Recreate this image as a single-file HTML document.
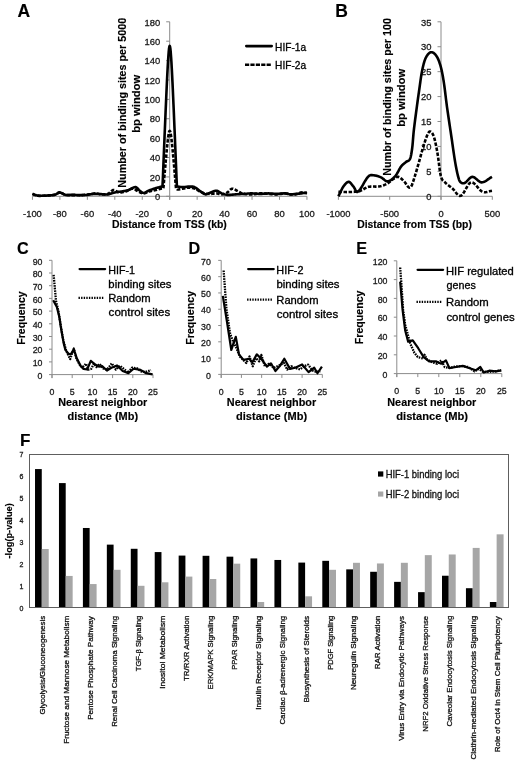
<!DOCTYPE html>
<html><head><meta charset="utf-8"><style>
html,body{margin:0;padding:0;background:#fff;overflow:hidden;width:520px;height:765px;}
svg{display:block;filter:blur(0.35px);}
text{font-family:"Liberation Sans", sans-serif;stroke-width:0.3px;}
text[font-weight=bold]{stroke-width:0.15px;}
</style></head><body>
<svg width="520" height="765" viewBox="0 0 520 765" font-family='"Liberation Sans", sans-serif'>
<rect width="520" height="765" fill="#fff"/>
<text x="17.60" y="16.90" font-size="17.5" font-weight="bold" fill="#000" stroke="#000">A</text>
<text x="335.30" y="16.90" font-size="17.5" font-weight="bold" fill="#000" stroke="#000">B</text>
<text x="17.00" y="254.30" font-size="16.2" font-weight="bold" fill="#000" stroke="#000">C</text>
<text x="188.60" y="254.30" font-size="16.2" font-weight="bold" fill="#000" stroke="#000">D</text>
<text x="356.20" y="254.30" font-size="16.2" font-weight="bold" fill="#000" stroke="#000">E</text>
<text x="20.00" y="445.90" font-size="17.0" font-weight="bold" fill="#000" stroke="#000">F</text>
<line x1="32.45" y1="196.30" x2="306.95" y2="196.30" stroke="#8c8c8c" stroke-width="1" stroke-linecap="butt"/>
<line x1="169.70" y1="21.80" x2="169.70" y2="199.80" stroke="#8c8c8c" stroke-width="1" stroke-linecap="butt"/>
<line x1="166.20" y1="196.30" x2="169.70" y2="196.30" stroke="#8c8c8c" stroke-width="1" stroke-linecap="butt"/>
<text x="160.30" y="200.00" font-size="9.8" text-anchor="end" textLength="5.2" lengthAdjust="spacingAndGlyphs" fill="#1a1a1a" stroke="#1a1a1a">0</text>
<line x1="166.20" y1="176.91" x2="169.70" y2="176.91" stroke="#8c8c8c" stroke-width="1" stroke-linecap="butt"/>
<text x="160.30" y="180.61" font-size="9.8" text-anchor="end" textLength="10.5" lengthAdjust="spacingAndGlyphs" fill="#1a1a1a" stroke="#1a1a1a">20</text>
<line x1="166.20" y1="157.52" x2="169.70" y2="157.52" stroke="#8c8c8c" stroke-width="1" stroke-linecap="butt"/>
<text x="160.30" y="161.22" font-size="9.8" text-anchor="end" textLength="10.5" lengthAdjust="spacingAndGlyphs" fill="#1a1a1a" stroke="#1a1a1a">40</text>
<line x1="166.20" y1="138.13" x2="169.70" y2="138.13" stroke="#8c8c8c" stroke-width="1" stroke-linecap="butt"/>
<text x="160.30" y="141.83" font-size="9.8" text-anchor="end" textLength="10.5" lengthAdjust="spacingAndGlyphs" fill="#1a1a1a" stroke="#1a1a1a">60</text>
<line x1="166.20" y1="118.74" x2="169.70" y2="118.74" stroke="#8c8c8c" stroke-width="1" stroke-linecap="butt"/>
<text x="160.30" y="122.44" font-size="9.8" text-anchor="end" textLength="10.5" lengthAdjust="spacingAndGlyphs" fill="#1a1a1a" stroke="#1a1a1a">80</text>
<line x1="166.20" y1="99.36" x2="169.70" y2="99.36" stroke="#8c8c8c" stroke-width="1" stroke-linecap="butt"/>
<text x="160.30" y="103.06" font-size="9.8" text-anchor="end" textLength="15.7" lengthAdjust="spacingAndGlyphs" fill="#1a1a1a" stroke="#1a1a1a">100</text>
<line x1="166.20" y1="79.97" x2="169.70" y2="79.97" stroke="#8c8c8c" stroke-width="1" stroke-linecap="butt"/>
<text x="160.30" y="83.67" font-size="9.8" text-anchor="end" textLength="15.7" lengthAdjust="spacingAndGlyphs" fill="#1a1a1a" stroke="#1a1a1a">120</text>
<line x1="166.20" y1="60.58" x2="169.70" y2="60.58" stroke="#8c8c8c" stroke-width="1" stroke-linecap="butt"/>
<text x="160.30" y="64.28" font-size="9.8" text-anchor="end" textLength="15.7" lengthAdjust="spacingAndGlyphs" fill="#1a1a1a" stroke="#1a1a1a">140</text>
<line x1="166.20" y1="41.19" x2="169.70" y2="41.19" stroke="#8c8c8c" stroke-width="1" stroke-linecap="butt"/>
<text x="160.30" y="44.89" font-size="9.8" text-anchor="end" textLength="15.7" lengthAdjust="spacingAndGlyphs" fill="#1a1a1a" stroke="#1a1a1a">160</text>
<line x1="166.20" y1="21.80" x2="169.70" y2="21.80" stroke="#8c8c8c" stroke-width="1" stroke-linecap="butt"/>
<text x="160.30" y="25.50" font-size="9.8" text-anchor="end" textLength="15.7" lengthAdjust="spacingAndGlyphs" fill="#1a1a1a" stroke="#1a1a1a">180</text>
<line x1="32.45" y1="196.30" x2="32.45" y2="199.80" stroke="#8c8c8c" stroke-width="1" stroke-linecap="butt"/>
<text x="32.45" y="216.90" font-size="9.8" text-anchor="middle" textLength="18.8" lengthAdjust="spacingAndGlyphs" fill="#1a1a1a" stroke="#1a1a1a">-100</text>
<line x1="59.90" y1="196.30" x2="59.90" y2="199.80" stroke="#8c8c8c" stroke-width="1" stroke-linecap="butt"/>
<text x="59.90" y="216.90" font-size="9.8" text-anchor="middle" textLength="13.6" lengthAdjust="spacingAndGlyphs" fill="#1a1a1a" stroke="#1a1a1a">-80</text>
<line x1="87.35" y1="196.30" x2="87.35" y2="199.80" stroke="#8c8c8c" stroke-width="1" stroke-linecap="butt"/>
<text x="87.35" y="216.90" font-size="9.8" text-anchor="middle" textLength="13.6" lengthAdjust="spacingAndGlyphs" fill="#1a1a1a" stroke="#1a1a1a">-60</text>
<line x1="114.80" y1="196.30" x2="114.80" y2="199.80" stroke="#8c8c8c" stroke-width="1" stroke-linecap="butt"/>
<text x="114.80" y="216.90" font-size="9.8" text-anchor="middle" textLength="13.6" lengthAdjust="spacingAndGlyphs" fill="#1a1a1a" stroke="#1a1a1a">-40</text>
<line x1="142.25" y1="196.30" x2="142.25" y2="199.80" stroke="#8c8c8c" stroke-width="1" stroke-linecap="butt"/>
<text x="142.25" y="216.90" font-size="9.8" text-anchor="middle" textLength="13.6" lengthAdjust="spacingAndGlyphs" fill="#1a1a1a" stroke="#1a1a1a">-20</text>
<line x1="169.70" y1="196.30" x2="169.70" y2="199.80" stroke="#8c8c8c" stroke-width="1" stroke-linecap="butt"/>
<text x="169.70" y="216.90" font-size="9.8" text-anchor="middle" textLength="5.2" lengthAdjust="spacingAndGlyphs" fill="#1a1a1a" stroke="#1a1a1a">0</text>
<line x1="197.15" y1="196.30" x2="197.15" y2="199.80" stroke="#8c8c8c" stroke-width="1" stroke-linecap="butt"/>
<text x="197.15" y="216.90" font-size="9.8" text-anchor="middle" textLength="10.5" lengthAdjust="spacingAndGlyphs" fill="#1a1a1a" stroke="#1a1a1a">20</text>
<line x1="224.60" y1="196.30" x2="224.60" y2="199.80" stroke="#8c8c8c" stroke-width="1" stroke-linecap="butt"/>
<text x="224.60" y="216.90" font-size="9.8" text-anchor="middle" textLength="10.5" lengthAdjust="spacingAndGlyphs" fill="#1a1a1a" stroke="#1a1a1a">40</text>
<line x1="252.05" y1="196.30" x2="252.05" y2="199.80" stroke="#8c8c8c" stroke-width="1" stroke-linecap="butt"/>
<text x="252.05" y="216.90" font-size="9.8" text-anchor="middle" textLength="10.5" lengthAdjust="spacingAndGlyphs" fill="#1a1a1a" stroke="#1a1a1a">60</text>
<line x1="279.50" y1="196.30" x2="279.50" y2="199.80" stroke="#8c8c8c" stroke-width="1" stroke-linecap="butt"/>
<text x="279.50" y="216.90" font-size="9.8" text-anchor="middle" textLength="10.5" lengthAdjust="spacingAndGlyphs" fill="#1a1a1a" stroke="#1a1a1a">80</text>
<line x1="306.95" y1="196.30" x2="306.95" y2="199.80" stroke="#8c8c8c" stroke-width="1" stroke-linecap="butt"/>
<text x="306.95" y="216.90" font-size="9.8" text-anchor="middle" textLength="15.7" lengthAdjust="spacingAndGlyphs" fill="#1a1a1a" stroke="#1a1a1a">100</text>
<text x="111.92" y="228.00" font-size="10.5" font-weight="bold" textLength="114.9" lengthAdjust="spacingAndGlyphs" fill="#000" stroke="#000">Distance from TSS (kb)</text>
<text x="125.90" y="187.70" font-size="10.6" font-weight="bold" textLength="169.9" lengthAdjust="spacingAndGlyphs" transform="rotate(-90 125.90 187.70)" fill="#000" stroke="#000">Number of binding sites per 5000</text>
<text x="139.60" y="132.73" font-size="10.6" font-weight="bold" textLength="57.9" lengthAdjust="spacingAndGlyphs" transform="rotate(-90 139.60 132.73)" fill="#000" stroke="#000">bp window</text>
<polyline points="32.45,193.88 32.86,194.04 33.41,194.29 34.08,194.57 34.84,194.86 35.68,195.13 36.57,195.33 37.57,195.48 38.71,195.60 39.92,195.69 41.14,195.76 42.33,195.80 43.43,195.82 44.42,195.79 45.37,195.73 46.26,195.63 47.14,195.53 48.01,195.42 48.92,195.33 49.84,195.27 50.75,195.23 51.66,195.20 52.58,195.14 53.49,195.03 54.41,194.85 55.33,194.52 56.24,194.07 57.15,193.56 58.07,193.09 58.98,192.75 59.90,192.62 60.78,192.75 61.63,193.11 62.48,193.60 63.36,194.10 64.32,194.55 65.39,194.85 66.63,194.97 67.98,195.00 69.43,194.97 70.88,194.91 72.29,194.86 73.62,194.85 74.85,194.88 76.01,194.94 77.14,195.01 78.25,195.07 79.36,195.12 80.49,195.14 81.63,195.13 82.78,195.11 83.92,195.07 85.06,195.01 86.21,194.94 87.35,194.85 88.49,194.71 89.64,194.53 90.78,194.32 91.92,194.13 93.07,193.97 94.21,193.88 95.35,193.85 96.50,193.88 97.64,193.95 98.78,194.03 99.94,194.11 101.07,194.17 102.21,194.23 103.37,194.32 104.51,194.40 105.65,194.46 106.80,194.45 107.94,194.36 109.08,194.15 110.23,193.84 111.37,193.46 112.51,193.08 113.66,192.71 114.80,192.42 115.94,192.21 117.09,192.04 118.23,191.91 119.37,191.78 120.52,191.63 121.66,191.45 122.80,191.26 123.95,191.06 125.09,190.85 126.23,190.61 127.39,190.33 128.52,190.00 129.71,189.52 130.91,188.90 132.12,188.25 133.30,187.65 134.40,187.23 135.39,187.09 136.24,187.31 136.97,187.79 137.61,188.45 138.23,189.18 138.85,189.90 139.50,190.48 140.18,191.00 140.82,191.54 141.48,192.06 142.15,192.50 142.85,192.79 143.62,192.91 144.45,192.78 145.30,192.46 146.20,191.99 147.14,191.47 148.10,190.95 149.11,190.48 150.20,190.07 151.35,189.64 152.54,189.21 153.74,188.80 154.89,188.41 155.97,188.06 156.32,187.96 156.66,187.86 157.00,187.75 157.35,187.66 157.69,187.57 158.01,187.49 158.03,187.48 158.38,187.39 158.72,187.31 158.98,187.24 159.06,187.22 159.41,187.14 159.75,187.05 159.89,187.02 160.09,186.97 160.44,186.88 160.72,186.81 160.78,186.79 161.12,186.70 161.46,186.61 161.81,186.47 161.99,186.40 162.15,186.29 162.27,186.21 162.49,186.03 162.78,180.39 162.84,179.01 163.18,170.40 163.30,167.30 163.52,161.85 163.87,153.38 164.21,144.95 164.55,136.62 164.90,128.36 165.24,120.19 165.58,112.14 165.66,110.22 165.93,104.22 166.27,96.47 166.61,88.92 166.95,81.63 167.30,74.66 167.56,69.63 167.64,68.10 167.98,62.08 168.33,56.73 168.67,52.24 169.01,48.81 169.36,46.66 169.70,45.91 170.04,46.66 170.39,48.81 170.73,52.24 171.07,56.73 171.42,62.08 171.76,68.10 171.84,69.63 172.10,74.66 172.44,81.63 172.79,88.92 173.13,96.47 173.47,104.22 173.74,110.22 173.82,112.14 174.16,120.19 174.50,128.36 174.85,136.62 175.19,144.95 175.53,153.38 175.88,161.86 176.10,167.32 176.22,170.41 176.56,179.04 176.62,180.43 176.91,186.09 177.13,186.28 177.25,186.36 177.41,186.46 177.59,186.51 177.94,186.61 178.28,186.66 178.62,186.71 178.69,186.73 178.96,186.76 179.31,186.81 179.57,186.84 179.65,186.85 179.99,186.88 180.34,186.92 180.52,186.94 180.68,186.95 181.02,186.98 181.37,187.01 181.49,187.02 181.71,187.03 182.05,187.05 182.40,187.07 182.48,187.07 182.74,187.08 183.08,187.08 183.42,187.09 184.34,187.05 185.25,186.97 186.17,186.85 187.09,186.73 188.00,186.64 188.91,186.61 189.83,186.59 190.74,186.57 191.66,186.58 192.58,186.64 193.49,186.80 194.41,187.09 195.32,187.55 196.23,188.15 197.15,188.85 198.07,189.59 198.98,190.31 199.89,190.97 200.81,191.63 201.72,192.33 202.64,193.03 203.56,193.65 204.47,194.11 205.38,194.36 206.30,194.34 207.21,194.10 208.13,193.71 209.05,193.25 209.96,192.80 210.88,192.42 211.79,192.07 212.70,191.66 213.62,191.26 214.54,190.92 215.45,190.71 216.36,190.68 217.28,190.89 218.19,191.30 219.11,191.83 220.03,192.42 220.94,192.96 221.85,193.39 222.73,193.73 223.58,194.04 224.44,194.32 225.31,194.55 226.27,194.73 227.34,194.85 228.55,194.88 229.88,194.83 231.30,194.72 232.74,194.59 234.18,194.46 235.58,194.36 236.95,194.28 238.32,194.20 239.70,194.12 241.07,194.04 242.44,193.96 243.81,193.88 245.19,193.78 246.56,193.68 247.93,193.57 249.31,193.48 250.68,193.42 252.05,193.39 253.42,193.43 254.79,193.52 256.17,193.63 257.54,193.75 258.91,193.84 260.28,193.88 261.66,193.84 263.03,193.75 264.40,193.63 265.77,193.52 267.15,193.43 268.52,193.39 269.89,193.43 271.26,193.52 272.64,193.63 274.01,193.75 275.38,193.84 276.75,193.88 278.15,193.84 279.60,193.73 281.04,193.60 282.45,193.48 283.78,193.40 284.99,193.39 286.06,193.49 287.02,193.66 287.90,193.87 288.75,194.09 289.60,194.27 290.48,194.36 291.40,194.36 292.31,194.31 293.23,194.21 294.14,194.09 295.05,193.97 295.97,193.88 296.89,193.80 297.80,193.73 298.72,193.66 299.63,193.59 300.54,193.50 301.46,193.39 302.43,193.25 303.49,193.07 304.55,192.88 305.52,192.69 306.35,192.53 306.95,192.42" fill="none" stroke="#000" stroke-width="2.6" stroke-linejoin="round" stroke-linecap="butt"/>
<polyline points="32.45,193.88 33.01,194.11 33.77,194.46 34.67,194.86 35.70,195.26 36.80,195.60 37.94,195.82 39.15,195.90 40.48,195.90 41.89,195.83 43.33,195.73 44.78,195.62 46.17,195.52 47.57,195.46 49.02,195.40 50.46,195.33 51.87,195.23 53.20,195.07 54.41,194.85 55.48,194.46 56.44,193.92 57.32,193.34 58.17,192.79 59.02,192.38 59.90,192.23 60.78,192.39 61.63,192.80 62.48,193.36 63.36,193.95 64.32,194.48 65.39,194.85 66.60,195.03 67.93,195.13 69.34,195.15 70.78,195.15 72.23,195.13 73.62,195.14 75.00,195.16 76.37,195.19 77.74,195.22 79.11,195.22 80.49,195.20 81.86,195.14 83.26,195.03 84.70,194.88 86.14,194.70 87.56,194.51 88.89,194.33 90.09,194.17 91.17,194.01 92.13,193.83 93.00,193.66 93.86,193.51 94.71,193.42 95.58,193.39 96.49,193.47 97.37,193.64 98.25,193.86 99.14,194.08 100.09,194.26 101.07,194.36 102.16,194.40 103.31,194.43 104.51,194.42 105.70,194.34 106.85,194.17 107.94,193.88 108.93,193.36 109.87,192.60 110.76,191.76 111.64,190.95 112.52,190.32 113.43,190.00 114.33,190.08 115.21,190.47 116.09,191.03 116.98,191.63 117.93,192.14 118.92,192.42 119.99,192.48 121.10,192.42 122.27,192.27 123.45,192.04 124.63,191.76 125.78,191.45 126.93,191.02 128.11,190.41 129.29,189.76 130.46,189.15 131.57,188.72 132.64,188.54 133.63,188.70 134.58,189.12 135.47,189.69 136.35,190.34 137.23,190.95 138.13,191.45 139.05,191.88 139.96,192.31 140.88,192.73 141.80,193.07 142.70,193.30 143.62,193.39 144.53,193.29 145.41,193.01 146.29,192.63 147.18,192.21 148.12,191.79 149.11,191.45 150.20,191.18 151.35,190.93 152.54,190.70 153.74,190.47 154.89,190.24 155.97,190.00 156.32,189.91 156.66,189.83 157.00,189.74 157.35,189.64 157.69,189.55 158.01,189.46 158.03,189.45 158.38,189.35 158.72,189.25 158.98,189.18 159.06,189.16 159.41,189.06 159.75,188.96 159.89,188.92 160.09,188.87 160.44,188.78 160.72,188.70 160.78,188.69 161.12,188.62 161.46,188.54 161.81,188.49 161.99,188.46 162.15,188.45 162.27,188.44 162.49,188.45 162.78,188.49 162.84,188.49 163.18,188.52 163.30,188.53 163.52,186.89 163.87,182.81 164.21,178.76 164.55,174.73 164.90,170.73 165.24,166.78 165.58,162.89 165.66,161.96 165.93,159.05 166.27,155.30 166.61,151.64 166.95,148.11 167.30,144.74 167.56,142.30 167.64,141.56 167.98,138.64 168.33,136.05 168.67,133.87 169.01,132.21 169.36,131.16 169.70,130.80 170.04,131.16 170.39,132.20 170.73,133.86 171.07,136.03 171.42,138.61 171.76,141.53 171.84,142.27 172.10,144.70 172.44,148.07 172.79,151.60 173.13,155.26 173.47,159.01 173.74,161.92 173.82,162.85 174.16,166.75 174.50,170.71 174.85,174.72 175.19,178.76 175.53,182.87 175.88,187.00 176.10,188.67 176.22,188.72 176.56,188.85 176.62,188.87 176.91,189.09 177.13,189.30 177.25,189.37 177.41,189.45 177.59,189.47 177.94,189.51 178.28,189.49 178.62,189.47 178.69,189.46 178.96,189.42 179.31,189.37 179.57,189.33 179.65,189.32 179.99,189.25 180.34,189.18 180.52,189.15 180.68,189.11 181.02,189.04 181.37,188.97 181.49,188.94 181.71,188.89 182.05,188.82 182.40,188.75 182.48,188.73 182.74,188.68 183.08,188.61 183.42,188.54 184.34,188.36 185.25,188.15 186.17,187.94 187.09,187.75 188.00,187.63 188.91,187.58 189.83,187.60 190.74,187.68 191.66,187.82 192.58,188.01 193.49,188.25 194.41,188.54 195.32,188.93 196.23,189.40 197.15,189.94 198.07,190.49 198.98,191.00 199.89,191.45 200.81,191.85 201.72,192.22 202.64,192.57 203.56,192.89 204.47,193.16 205.38,193.39 206.30,193.57 207.21,193.70 208.13,193.79 209.05,193.84 209.96,193.87 210.88,193.88 211.79,193.83 212.70,193.73 213.62,193.60 214.54,193.48 215.45,193.40 216.36,193.39 217.28,193.50 218.19,193.71 219.11,193.97 220.03,194.20 220.94,194.35 221.85,194.36 222.77,194.23 223.71,194.00 224.64,193.68 225.56,193.31 226.47,192.88 227.34,192.42 228.17,191.84 228.95,191.08 229.71,190.29 230.47,189.55 231.27,189.01 232.15,188.74 233.11,188.82 234.13,189.18 235.20,189.71 236.27,190.33 237.32,190.94 238.32,191.45 239.24,191.89 240.11,192.36 240.95,192.81 241.81,193.22 242.74,193.59 243.81,193.88 245.02,194.09 246.35,194.24 247.77,194.33 249.21,194.38 250.65,194.39 252.05,194.36 253.42,194.27 254.79,194.09 256.17,193.88 257.54,193.66 258.91,193.49 260.28,193.39 261.66,193.39 263.03,193.45 264.40,193.54 265.77,193.66 267.15,193.78 268.52,193.88 269.89,193.97 271.26,194.09 272.64,194.21 274.01,194.31 275.38,194.36 276.75,194.36 278.15,194.26 279.60,194.07 281.04,193.85 282.45,193.62 283.78,193.46 284.99,193.39 286.06,193.45 287.02,193.61 287.90,193.81 288.75,194.04 289.60,194.23 290.48,194.36 291.40,194.44 292.31,194.50 293.23,194.54 294.14,194.54 295.05,194.48 295.97,194.36 296.89,194.11 297.80,193.75 298.72,193.33 299.63,192.92 300.54,192.60 301.46,192.42 302.43,192.43 303.49,192.57 304.55,192.79 305.52,193.03 306.35,193.25 306.95,193.39" fill="none" stroke="#000" stroke-width="2.6" stroke-linejoin="round" stroke-linecap="butt" stroke-dasharray="3.5 1.6"/>
<line x1="246.30" y1="46.10" x2="271.70" y2="46.10" stroke="#000" stroke-width="2.6" stroke-linecap="round"/>
<text x="275.09" y="50.60" font-size="10.3" textLength="31.1" lengthAdjust="spacingAndGlyphs" fill="#000" stroke="#000">HIF-1a</text>
<line x1="245.00" y1="64.80" x2="271.00" y2="64.80" stroke="#000" stroke-width="2.6" stroke-linecap="butt" stroke-dasharray="4.2 1.2"/>
<text x="275.09" y="68.80" font-size="10.3" textLength="31.1" lengthAdjust="spacingAndGlyphs" fill="#000" stroke="#000">HIF-2a</text>
<line x1="338.40" y1="196.30" x2="492.30" y2="196.30" stroke="#8c8c8c" stroke-width="1" stroke-linecap="butt"/>
<line x1="441.00" y1="21.80" x2="441.00" y2="199.80" stroke="#8c8c8c" stroke-width="1" stroke-linecap="butt"/>
<line x1="437.50" y1="196.30" x2="441.00" y2="196.30" stroke="#8c8c8c" stroke-width="1" stroke-linecap="butt"/>
<text x="431.50" y="200.00" font-size="9.8" text-anchor="end" textLength="5.2" lengthAdjust="spacingAndGlyphs" fill="#1a1a1a" stroke="#1a1a1a">0</text>
<line x1="437.50" y1="171.37" x2="441.00" y2="171.37" stroke="#8c8c8c" stroke-width="1" stroke-linecap="butt"/>
<text x="431.50" y="175.07" font-size="9.8" text-anchor="end" textLength="5.2" lengthAdjust="spacingAndGlyphs" fill="#1a1a1a" stroke="#1a1a1a">5</text>
<line x1="437.50" y1="146.44" x2="441.00" y2="146.44" stroke="#8c8c8c" stroke-width="1" stroke-linecap="butt"/>
<text x="431.50" y="150.14" font-size="9.8" text-anchor="end" textLength="10.5" lengthAdjust="spacingAndGlyphs" fill="#1a1a1a" stroke="#1a1a1a">10</text>
<line x1="437.50" y1="121.51" x2="441.00" y2="121.51" stroke="#8c8c8c" stroke-width="1" stroke-linecap="butt"/>
<text x="431.50" y="125.21" font-size="9.8" text-anchor="end" textLength="10.5" lengthAdjust="spacingAndGlyphs" fill="#1a1a1a" stroke="#1a1a1a">15</text>
<line x1="437.50" y1="96.59" x2="441.00" y2="96.59" stroke="#8c8c8c" stroke-width="1" stroke-linecap="butt"/>
<text x="431.50" y="100.29" font-size="9.8" text-anchor="end" textLength="10.5" lengthAdjust="spacingAndGlyphs" fill="#1a1a1a" stroke="#1a1a1a">20</text>
<line x1="437.50" y1="71.66" x2="441.00" y2="71.66" stroke="#8c8c8c" stroke-width="1" stroke-linecap="butt"/>
<text x="431.50" y="75.36" font-size="9.8" text-anchor="end" textLength="10.5" lengthAdjust="spacingAndGlyphs" fill="#1a1a1a" stroke="#1a1a1a">25</text>
<line x1="437.50" y1="46.73" x2="441.00" y2="46.73" stroke="#8c8c8c" stroke-width="1" stroke-linecap="butt"/>
<text x="431.50" y="50.43" font-size="9.8" text-anchor="end" textLength="10.5" lengthAdjust="spacingAndGlyphs" fill="#1a1a1a" stroke="#1a1a1a">30</text>
<line x1="437.50" y1="21.80" x2="441.00" y2="21.80" stroke="#8c8c8c" stroke-width="1" stroke-linecap="butt"/>
<text x="431.50" y="25.50" font-size="9.8" text-anchor="end" textLength="10.5" lengthAdjust="spacingAndGlyphs" fill="#1a1a1a" stroke="#1a1a1a">35</text>
<line x1="338.40" y1="196.30" x2="338.40" y2="199.80" stroke="#8c8c8c" stroke-width="1" stroke-linecap="butt"/>
<text x="338.40" y="216.90" font-size="9.8" text-anchor="middle" textLength="24.0" lengthAdjust="spacingAndGlyphs" fill="#1a1a1a" stroke="#1a1a1a">-1000</text>
<line x1="389.70" y1="196.30" x2="389.70" y2="199.80" stroke="#8c8c8c" stroke-width="1" stroke-linecap="butt"/>
<text x="389.70" y="216.90" font-size="9.8" text-anchor="middle" textLength="18.8" lengthAdjust="spacingAndGlyphs" fill="#1a1a1a" stroke="#1a1a1a">-500</text>
<line x1="441.00" y1="196.30" x2="441.00" y2="199.80" stroke="#8c8c8c" stroke-width="1" stroke-linecap="butt"/>
<text x="441.00" y="216.90" font-size="9.8" text-anchor="middle" textLength="5.2" lengthAdjust="spacingAndGlyphs" fill="#1a1a1a" stroke="#1a1a1a">0</text>
<line x1="492.30" y1="196.30" x2="492.30" y2="199.80" stroke="#8c8c8c" stroke-width="1" stroke-linecap="butt"/>
<text x="492.30" y="216.90" font-size="9.8" text-anchor="middle" textLength="15.7" lengthAdjust="spacingAndGlyphs" fill="#1a1a1a" stroke="#1a1a1a">500</text>
<text x="357.23" y="228.00" font-size="10.5" font-weight="bold" textLength="114.7" lengthAdjust="spacingAndGlyphs" fill="#000" stroke="#000">Distance from TSS (bp)</text>
<text x="391.20" y="175.70" font-size="10.6" font-weight="bold" textLength="157.7" lengthAdjust="spacingAndGlyphs" transform="rotate(-90 391.20 175.70)" fill="#000" stroke="#000">Numbr of binding sites per 100</text>
<text x="405.40" y="126.73" font-size="10.6" font-weight="bold" textLength="57.9" lengthAdjust="spacingAndGlyphs" transform="rotate(-90 405.40 126.73)" fill="#000" stroke="#000">bp window</text>
<polyline points="338.40,196.30 338.83,195.45 339.25,194.57 339.68,193.68 340.11,192.77 340.54,191.86 340.96,190.96 341.39,190.08 341.82,189.24 342.25,188.43 342.67,187.66 343.10,186.96 343.53,186.33 343.97,185.73 344.40,185.15 344.84,184.60 345.27,184.08 345.71,183.61 346.15,183.17 346.58,182.79 347.02,182.46 347.45,182.20 347.89,182.00 348.33,181.88 348.76,181.84 349.14,181.90 349.51,182.06 349.89,182.31 350.27,182.63 350.64,183.02 351.02,183.45 351.40,183.93 351.77,184.42 352.15,184.92 352.52,185.41 352.90,185.89 353.28,186.33 353.64,186.80 354.01,187.37 354.38,188.01 354.75,188.70 355.12,189.38 355.48,190.05 355.85,190.66 356.22,191.19 356.59,191.59 356.95,191.86 357.32,191.94 357.69,191.81 358.59,191.08 359.48,190.10 360.38,188.91 361.28,187.55 362.18,186.08 363.08,184.54 363.97,182.98 364.87,181.43 365.77,179.95 366.67,178.58 367.56,177.37 368.46,176.36 368.94,175.93 369.42,175.61 369.90,175.38 370.38,175.22 370.86,175.12 371.33,175.09 371.81,175.09 372.29,175.13 372.77,175.18 373.25,175.25 373.73,175.31 374.21,175.36 374.77,175.42 375.34,175.50 375.90,175.61 376.46,175.73 377.03,175.88 377.59,176.05 378.16,176.23 378.72,176.43 379.29,176.64 379.85,176.87 380.41,177.11 380.98,177.35 381.53,177.65 382.09,178.01 382.65,178.43 383.20,178.88 383.76,179.35 384.31,179.81 384.87,180.24 385.43,180.63 385.98,180.96 386.54,181.20 387.09,181.33 387.65,181.34 388.30,181.23 388.95,181.04 389.60,180.78 390.25,180.44 390.90,180.04 391.55,179.58 392.20,179.06 392.85,178.50 393.50,177.89 394.15,177.24 394.80,176.56 395.45,175.86 395.92,175.28 396.40,174.60 396.88,173.84 397.36,173.02 397.84,172.16 398.32,171.27 398.80,170.37 399.28,169.49 399.75,168.63 400.23,167.81 400.71,167.06 401.19,166.39 401.60,165.87 402.01,165.41 402.42,164.98 402.83,164.59 403.24,164.22 403.65,163.88 404.06,163.55 404.47,163.23 404.88,162.91 405.30,162.59 405.71,162.25 406.12,161.90 406.46,161.64 406.80,161.44 407.14,161.30 407.48,161.17 407.83,161.05 408.17,160.91 408.51,160.72 408.85,160.47 409.19,160.14 409.54,159.70 409.88,159.13 410.22,158.41 410.39,157.96 410.56,157.40 410.73,156.76 410.90,156.02 411.07,155.20 411.25,154.30 411.42,153.32 411.59,152.27 411.76,151.15 411.93,149.97 412.10,148.73 412.27,147.44 412.39,146.43 412.51,145.27 412.63,143.99 412.75,142.62 412.87,141.18 412.99,139.69 413.11,138.20 413.23,136.72 413.35,135.28 413.47,133.91 413.59,132.64 413.71,131.49 413.94,129.44 414.17,127.46 414.40,125.53 414.63,123.65 414.86,121.82 415.09,120.02 415.32,118.24 415.56,116.49 415.79,114.75 416.02,113.02 416.25,111.29 416.48,109.55 416.71,107.81 416.94,106.09 417.17,104.39 417.40,102.70 417.63,101.02 417.86,99.36 418.09,97.71 418.33,96.07 418.56,94.44 418.79,92.82 419.02,91.21 419.25,89.61 419.48,87.99 419.71,86.33 419.94,84.67 420.17,82.99 420.40,81.33 420.63,79.69 420.86,78.09 421.10,76.55 421.33,75.06 421.56,73.66 421.79,72.36 422.02,71.16 422.32,69.71 422.62,68.32 422.92,66.99 423.22,65.72 423.52,64.52 423.81,63.39 424.11,62.33 424.41,61.35 424.71,60.44 425.01,59.61 425.31,58.86 425.61,58.20 426.07,57.28 426.53,56.44 427.00,55.68 427.46,55.00 427.92,54.39 428.38,53.86 428.84,53.40 429.30,53.02 429.77,52.71 430.23,52.47 430.69,52.31 431.15,52.21 431.63,52.19 432.11,52.25 432.59,52.38 433.07,52.60 433.54,52.88 434.02,53.23 434.50,53.66 434.98,54.14 435.46,54.70 435.94,55.31 436.42,55.98 436.90,56.70 437.24,57.27 437.58,57.90 437.92,58.60 438.26,59.37 438.61,60.19 438.95,61.08 439.29,62.03 439.63,63.04 439.97,64.11 440.32,65.24 440.66,66.43 441.00,67.67 441.24,68.59 441.48,69.58 441.72,70.63 441.96,71.74 442.20,72.91 442.44,74.13 442.68,75.42 442.92,76.76 443.15,78.15 443.39,79.59 443.63,81.08 443.87,82.63 444.13,84.36 444.39,86.21 444.64,88.16 444.90,90.17 445.16,92.24 445.41,94.34 445.67,96.45 445.92,98.56 446.18,100.65 446.44,102.69 446.69,104.66 446.95,106.56 447.32,109.18 447.69,111.76 448.05,114.30 448.42,116.81 448.79,119.30 449.16,121.77 449.52,124.22 449.89,126.66 450.26,129.11 450.63,131.55 450.99,134.00 451.36,136.47 451.70,138.80 452.05,141.16 452.39,143.56 452.73,145.96 453.07,148.36 453.41,150.74 453.76,153.09 454.10,155.40 454.44,157.64 454.78,159.82 455.12,161.91 455.47,163.89 455.76,165.51 456.05,167.07 456.34,168.57 456.63,170.01 456.92,171.39 457.21,172.72 457.50,173.98 457.79,175.18 458.08,176.32 458.37,177.40 458.66,178.41 458.95,179.35 459.17,179.97 459.38,180.50 459.60,180.95 459.81,181.33 460.02,181.65 460.24,181.91 460.45,182.13 460.67,182.31 460.88,182.46 461.09,182.59 461.31,182.72 461.52,182.84 461.80,182.99 462.08,183.11 462.37,183.21 462.65,183.27 462.93,183.31 463.21,183.32 463.50,183.31 463.78,183.26 464.06,183.20 464.34,183.10 464.62,182.98 464.91,182.84 465.52,182.43 466.14,181.93 466.75,181.34 467.37,180.70 467.98,180.03 468.60,179.36 469.22,178.72 469.83,178.14 470.45,177.63 471.06,177.23 471.68,176.96 472.29,176.86 473.07,176.94 473.85,177.23 474.63,177.67 475.41,178.24 476.18,178.88 476.96,179.56 477.74,180.25 478.52,180.90 479.30,181.47 480.07,181.93 480.85,182.23 481.63,182.34 482.49,182.27 483.36,182.06 484.22,181.74 485.08,181.32 485.95,180.83 486.81,180.28 487.67,179.70 488.54,179.09 489.40,178.48 490.27,177.90 491.13,177.35 491.99,176.86" fill="none" stroke="#000" stroke-width="2.6" stroke-linejoin="round" stroke-linecap="butt"/>
<polyline points="338.40,191.81 339.25,191.84 340.11,191.87 340.96,191.90 341.82,191.93 342.67,191.97 343.53,192.00 344.38,192.03 345.24,192.05 346.09,192.07 346.95,192.08 347.80,192.08 348.66,192.06 349.51,192.04 350.37,192.02 351.22,191.99 352.08,191.96 352.93,191.92 353.79,191.87 354.64,191.81 355.50,191.74 356.35,191.66 357.21,191.56 358.06,191.45 358.92,191.31 359.20,191.26 359.48,191.18 359.77,191.08 360.05,190.96 360.33,190.83 360.61,190.70 360.90,190.55 361.18,190.40 361.46,190.25 361.74,190.10 362.02,189.96 362.31,189.82 362.82,189.56 363.33,189.29 363.84,189.00 364.36,188.70 364.87,188.41 365.38,188.11 365.90,187.83 366.41,187.57 366.92,187.33 367.44,187.12 367.95,186.95 368.46,186.83 369.42,186.67 370.38,186.58 371.33,186.53 372.29,186.52 373.25,186.53 374.21,186.56 375.16,186.58 376.12,186.60 377.08,186.59 378.04,186.55 379.00,186.47 379.95,186.33 380.59,186.20 381.24,186.04 381.88,185.86 382.52,185.66 383.16,185.44 383.80,185.19 384.44,184.92 385.08,184.64 385.72,184.34 386.37,184.02 387.01,183.68 387.65,183.34 388.14,183.05 388.62,182.71 389.11,182.35 389.60,181.96 390.08,181.55 390.57,181.13 391.06,180.71 391.55,180.30 392.03,179.90 392.52,179.52 393.01,179.17 393.50,178.85 393.90,178.60 394.30,178.34 394.70,178.07 395.10,177.81 395.51,177.57 395.91,177.34 396.31,177.15 396.71,176.99 397.11,176.87 397.51,176.80 397.92,176.80 398.32,176.86 398.80,177.00 399.28,177.21 399.75,177.48 400.23,177.79 400.71,178.15 401.19,178.55 401.67,178.98 402.15,179.43 402.63,179.90 403.11,180.38 403.59,180.86 404.06,181.34 404.46,181.77 404.85,182.26 405.24,182.79 405.64,183.35 406.03,183.93 406.42,184.51 406.82,185.09 407.21,185.64 407.60,186.15 408.00,186.61 408.39,187.01 408.78,187.33 408.99,187.45 409.19,187.54 409.40,187.59 409.60,187.60 409.81,187.57 410.01,187.51 410.22,187.41 410.43,187.27 410.63,187.09 410.84,186.87 411.04,186.62 411.25,186.33 411.45,185.99 411.66,185.59 411.86,185.15 412.07,184.66 412.27,184.13 412.48,183.57 412.68,182.99 412.89,182.38 413.09,181.76 413.30,181.12 413.50,180.49 413.71,179.85 414.09,178.64 414.48,177.42 414.86,176.17 415.25,174.90 415.63,173.62 416.02,172.33 416.40,171.02 416.79,169.70 417.17,168.38 417.56,167.05 417.94,165.72 418.33,164.39 418.71,163.05 419.09,161.67 419.48,160.28 419.86,158.88 420.25,157.46 420.63,156.05 421.02,154.64 421.40,153.25 421.79,151.88 422.17,150.53 422.56,149.21 422.94,147.94 423.31,146.74 423.68,145.55 424.05,144.36 424.41,143.19 424.78,142.03 425.15,140.91 425.52,139.81 425.88,138.75 426.25,137.73 426.62,136.76 426.99,135.84 427.35,134.98 427.59,134.45 427.83,133.95 428.07,133.48 428.31,133.05 428.55,132.65 428.79,132.31 429.03,132.02 429.27,131.78 429.51,131.60 429.75,131.49 429.99,131.45 430.23,131.49 430.53,131.60 430.84,131.76 431.15,131.98 431.46,132.25 431.77,132.58 432.07,132.98 432.38,133.44 432.69,133.98 433.00,134.60 433.31,135.30 433.61,136.09 433.92,136.97 434.22,137.92 434.52,138.97 434.82,140.11 435.12,141.33 435.42,142.63 435.72,144.01 436.02,145.45 436.31,146.95 436.61,148.50 436.91,150.10 437.21,151.75 437.51,153.42 437.79,155.08 438.06,156.94 438.33,158.95 438.61,161.05 438.88,163.21 439.15,165.38 439.43,167.50 439.70,169.54 439.97,171.44 440.25,173.16 440.52,174.65 440.79,175.86 441.15,177.09 441.50,178.11 441.85,178.94 442.20,179.61 442.55,180.14 442.90,180.56 443.25,180.90 443.60,181.19 443.95,181.45 444.30,181.71 444.65,182.00 445.00,182.34 445.61,182.97 446.22,183.55 446.82,184.09 447.43,184.60 448.04,185.08 448.64,185.54 449.25,185.99 449.86,186.43 450.46,186.88 451.07,187.34 451.68,187.82 452.29,188.32 452.99,188.99 453.69,189.77 454.39,190.63 455.09,191.53 455.79,192.43 456.49,193.30 457.19,194.10 457.89,194.79 458.60,195.35 459.30,195.72 460.00,195.89 460.70,195.80 461.56,195.32 462.43,194.47 463.29,193.32 464.15,191.96 465.02,190.46 465.88,188.89 466.74,187.34 467.61,185.87 468.47,184.55 469.33,183.48 470.20,182.72 471.06,182.34 472.02,182.35 472.98,182.69 473.93,183.31 474.89,184.14 475.85,185.13 476.81,186.23 477.76,187.38 478.72,188.51 479.68,189.58 480.64,190.52 481.60,191.29 482.55,191.81 483.34,192.07 484.13,192.20 484.91,192.24 485.70,192.19 486.49,192.08 487.27,191.92 488.06,191.72 488.85,191.51 489.63,191.29 490.42,191.09 491.21,190.93 491.99,190.82" fill="none" stroke="#000" stroke-width="2.6" stroke-linejoin="round" stroke-linecap="butt" stroke-dasharray="3.5 1.6"/>
<line x1="52.00" y1="374.60" x2="153.00" y2="374.60" stroke="#8c8c8c" stroke-width="1" stroke-linecap="butt"/>
<line x1="52.00" y1="260.30" x2="52.00" y2="378.10" stroke="#8c8c8c" stroke-width="1" stroke-linecap="butt"/>
<line x1="49.00" y1="374.60" x2="52.00" y2="374.60" stroke="#8c8c8c" stroke-width="1" stroke-linecap="butt"/>
<text x="42.50" y="378.80" font-size="9.4" text-anchor="end" textLength="4.9" lengthAdjust="spacingAndGlyphs" fill="#1a1a1a" stroke="#1a1a1a">0</text>
<line x1="49.00" y1="361.90" x2="52.00" y2="361.90" stroke="#8c8c8c" stroke-width="1" stroke-linecap="butt"/>
<text x="42.50" y="366.10" font-size="9.4" text-anchor="end" textLength="9.8" lengthAdjust="spacingAndGlyphs" fill="#1a1a1a" stroke="#1a1a1a">10</text>
<line x1="49.00" y1="349.20" x2="52.00" y2="349.20" stroke="#8c8c8c" stroke-width="1" stroke-linecap="butt"/>
<text x="42.50" y="353.40" font-size="9.4" text-anchor="end" textLength="9.8" lengthAdjust="spacingAndGlyphs" fill="#1a1a1a" stroke="#1a1a1a">20</text>
<line x1="49.00" y1="336.50" x2="52.00" y2="336.50" stroke="#8c8c8c" stroke-width="1" stroke-linecap="butt"/>
<text x="42.50" y="340.70" font-size="9.4" text-anchor="end" textLength="9.8" lengthAdjust="spacingAndGlyphs" fill="#1a1a1a" stroke="#1a1a1a">30</text>
<line x1="49.00" y1="323.80" x2="52.00" y2="323.80" stroke="#8c8c8c" stroke-width="1" stroke-linecap="butt"/>
<text x="42.50" y="328.00" font-size="9.4" text-anchor="end" textLength="9.8" lengthAdjust="spacingAndGlyphs" fill="#1a1a1a" stroke="#1a1a1a">40</text>
<line x1="49.00" y1="311.10" x2="52.00" y2="311.10" stroke="#8c8c8c" stroke-width="1" stroke-linecap="butt"/>
<text x="42.50" y="315.30" font-size="9.4" text-anchor="end" textLength="9.8" lengthAdjust="spacingAndGlyphs" fill="#1a1a1a" stroke="#1a1a1a">50</text>
<line x1="49.00" y1="298.40" x2="52.00" y2="298.40" stroke="#8c8c8c" stroke-width="1" stroke-linecap="butt"/>
<text x="42.50" y="302.60" font-size="9.4" text-anchor="end" textLength="9.8" lengthAdjust="spacingAndGlyphs" fill="#1a1a1a" stroke="#1a1a1a">60</text>
<line x1="49.00" y1="285.70" x2="52.00" y2="285.70" stroke="#8c8c8c" stroke-width="1" stroke-linecap="butt"/>
<text x="42.50" y="289.90" font-size="9.4" text-anchor="end" textLength="9.8" lengthAdjust="spacingAndGlyphs" fill="#1a1a1a" stroke="#1a1a1a">70</text>
<line x1="49.00" y1="273.00" x2="52.00" y2="273.00" stroke="#8c8c8c" stroke-width="1" stroke-linecap="butt"/>
<text x="42.50" y="277.20" font-size="9.4" text-anchor="end" textLength="9.8" lengthAdjust="spacingAndGlyphs" fill="#1a1a1a" stroke="#1a1a1a">80</text>
<line x1="49.00" y1="260.30" x2="52.00" y2="260.30" stroke="#8c8c8c" stroke-width="1" stroke-linecap="butt"/>
<text x="42.50" y="264.50" font-size="9.4" text-anchor="end" textLength="9.8" lengthAdjust="spacingAndGlyphs" fill="#1a1a1a" stroke="#1a1a1a">90</text>
<line x1="52.00" y1="374.60" x2="52.00" y2="378.10" stroke="#8c8c8c" stroke-width="1" stroke-linecap="butt"/>
<text x="52.00" y="394.80" font-size="9.4" text-anchor="middle" textLength="4.9" lengthAdjust="spacingAndGlyphs" fill="#1a1a1a" stroke="#1a1a1a">0</text>
<line x1="72.20" y1="374.60" x2="72.20" y2="378.10" stroke="#8c8c8c" stroke-width="1" stroke-linecap="butt"/>
<text x="72.20" y="394.80" font-size="9.4" text-anchor="middle" textLength="4.9" lengthAdjust="spacingAndGlyphs" fill="#1a1a1a" stroke="#1a1a1a">5</text>
<line x1="92.40" y1="374.60" x2="92.40" y2="378.10" stroke="#8c8c8c" stroke-width="1" stroke-linecap="butt"/>
<text x="92.40" y="394.80" font-size="9.4" text-anchor="middle" textLength="9.8" lengthAdjust="spacingAndGlyphs" fill="#1a1a1a" stroke="#1a1a1a">10</text>
<line x1="112.60" y1="374.60" x2="112.60" y2="378.10" stroke="#8c8c8c" stroke-width="1" stroke-linecap="butt"/>
<text x="112.60" y="394.80" font-size="9.4" text-anchor="middle" textLength="9.8" lengthAdjust="spacingAndGlyphs" fill="#1a1a1a" stroke="#1a1a1a">15</text>
<line x1="132.80" y1="374.60" x2="132.80" y2="378.10" stroke="#8c8c8c" stroke-width="1" stroke-linecap="butt"/>
<text x="132.80" y="394.80" font-size="9.4" text-anchor="middle" textLength="9.8" lengthAdjust="spacingAndGlyphs" fill="#1a1a1a" stroke="#1a1a1a">20</text>
<line x1="153.00" y1="374.60" x2="153.00" y2="378.10" stroke="#8c8c8c" stroke-width="1" stroke-linecap="butt"/>
<text x="153.00" y="394.80" font-size="9.4" text-anchor="middle" textLength="9.8" lengthAdjust="spacingAndGlyphs" fill="#1a1a1a" stroke="#1a1a1a">25</text>
<text x="58.30" y="405.50" font-size="10.5" font-weight="bold" textLength="88.9" lengthAdjust="spacingAndGlyphs" fill="#000" stroke="#000">Nearest neighbor</text>
<text x="67.56" y="419.50" font-size="10.5" font-weight="bold" textLength="70.5" lengthAdjust="spacingAndGlyphs" fill="#000" stroke="#000">distance (Mb)</text>
<text x="24.60" y="344.69" font-size="10.5" font-weight="bold" textLength="53.4" lengthAdjust="spacingAndGlyphs" transform="rotate(-90 24.60 344.69)" fill="#000" stroke="#000">Frequency</text>
<polyline points="53.21,300.18 56.85,306.91 59.27,316.81 61.70,332.31 63.72,343.36 65.33,349.84 68.97,354.28 71.39,353.65 73.82,349.33 76.64,357.96 80.68,366.09 83.51,368.89 87.15,369.52 90.78,360.88 94.02,363.68 98.86,366.60 102.10,366.09 106.94,370.54 111.39,367.74 117.04,365.46 122.70,371.04 128.36,373.20 133.61,368.76 140.48,369.90 146.13,373.20 152.60,374.35" fill="none" stroke="#000" stroke-width="2.2" stroke-linejoin="round" stroke-linecap="butt"/>
<polyline points="53.62,274.78 56.04,301.32 58.46,311.10 60.89,326.34 63.31,340.31 66.14,350.47 68.16,354.92 70.18,359.11 72.20,353.01 73.82,348.56 76.24,358.09 79.47,364.44 82.30,367.62 85.94,363.68 88.36,369.52 91.19,368.89 94.02,363.68 96.44,366.98 99.67,363.81 102.50,368.25 106.94,369.52 111.79,363.42 115.83,369.52 119.87,365.71 123.91,368.89 127.95,372.70 131.99,367.62 136.84,368.25 142.09,372.06 146.94,371.43 150.98,370.16" fill="none" stroke="#000" stroke-width="2.3" stroke-linejoin="round" stroke-linecap="butt" stroke-dasharray="1.6 1.0"/>
<line x1="79.60" y1="269.10" x2="105.10" y2="269.10" stroke="#000" stroke-width="2.3" stroke-linecap="round"/>
<line x1="78.50" y1="297.80" x2="104.50" y2="297.80" stroke="#000" stroke-width="2.2" stroke-linecap="butt" stroke-dasharray="1.4 1.2"/>
<text x="108.24" y="273.70" font-size="10.3" textLength="26.8" lengthAdjust="spacingAndGlyphs" fill="#000" stroke="#000">HIF-1</text>
<text x="108.36" y="288.30" font-size="10.3" textLength="63.0" lengthAdjust="spacingAndGlyphs" fill="#000" stroke="#000">binding sites</text>
<text x="108.20" y="302.40" font-size="10.3" textLength="42.5" lengthAdjust="spacingAndGlyphs" fill="#000" stroke="#000">Random</text>
<text x="108.64" y="316.00" font-size="10.3" textLength="61.6" lengthAdjust="spacingAndGlyphs" fill="#000" stroke="#000">control sites</text>
<line x1="221.20" y1="374.40" x2="322.32" y2="374.40" stroke="#8c8c8c" stroke-width="1" stroke-linecap="butt"/>
<line x1="221.20" y1="260.37" x2="221.20" y2="377.90" stroke="#8c8c8c" stroke-width="1" stroke-linecap="butt"/>
<line x1="218.20" y1="374.40" x2="221.20" y2="374.40" stroke="#8c8c8c" stroke-width="1" stroke-linecap="butt"/>
<text x="210.80" y="378.60" font-size="9.4" text-anchor="end" textLength="4.9" lengthAdjust="spacingAndGlyphs" fill="#1a1a1a" stroke="#1a1a1a">0</text>
<line x1="218.20" y1="358.11" x2="221.20" y2="358.11" stroke="#8c8c8c" stroke-width="1" stroke-linecap="butt"/>
<text x="210.80" y="362.31" font-size="9.4" text-anchor="end" textLength="9.8" lengthAdjust="spacingAndGlyphs" fill="#1a1a1a" stroke="#1a1a1a">10</text>
<line x1="218.20" y1="341.82" x2="221.20" y2="341.82" stroke="#8c8c8c" stroke-width="1" stroke-linecap="butt"/>
<text x="210.80" y="346.02" font-size="9.4" text-anchor="end" textLength="9.8" lengthAdjust="spacingAndGlyphs" fill="#1a1a1a" stroke="#1a1a1a">20</text>
<line x1="218.20" y1="325.53" x2="221.20" y2="325.53" stroke="#8c8c8c" stroke-width="1" stroke-linecap="butt"/>
<text x="210.80" y="329.73" font-size="9.4" text-anchor="end" textLength="9.8" lengthAdjust="spacingAndGlyphs" fill="#1a1a1a" stroke="#1a1a1a">30</text>
<line x1="218.20" y1="309.24" x2="221.20" y2="309.24" stroke="#8c8c8c" stroke-width="1" stroke-linecap="butt"/>
<text x="210.80" y="313.44" font-size="9.4" text-anchor="end" textLength="9.8" lengthAdjust="spacingAndGlyphs" fill="#1a1a1a" stroke="#1a1a1a">40</text>
<line x1="218.20" y1="292.95" x2="221.20" y2="292.95" stroke="#8c8c8c" stroke-width="1" stroke-linecap="butt"/>
<text x="210.80" y="297.15" font-size="9.4" text-anchor="end" textLength="9.8" lengthAdjust="spacingAndGlyphs" fill="#1a1a1a" stroke="#1a1a1a">50</text>
<line x1="218.20" y1="276.66" x2="221.20" y2="276.66" stroke="#8c8c8c" stroke-width="1" stroke-linecap="butt"/>
<text x="210.80" y="280.86" font-size="9.4" text-anchor="end" textLength="9.8" lengthAdjust="spacingAndGlyphs" fill="#1a1a1a" stroke="#1a1a1a">60</text>
<line x1="218.20" y1="260.37" x2="221.20" y2="260.37" stroke="#8c8c8c" stroke-width="1" stroke-linecap="butt"/>
<text x="210.80" y="264.57" font-size="9.4" text-anchor="end" textLength="9.8" lengthAdjust="spacingAndGlyphs" fill="#1a1a1a" stroke="#1a1a1a">70</text>
<line x1="221.20" y1="374.40" x2="221.20" y2="377.90" stroke="#8c8c8c" stroke-width="1" stroke-linecap="butt"/>
<text x="221.20" y="394.60" font-size="9.4" text-anchor="middle" textLength="4.9" lengthAdjust="spacingAndGlyphs" fill="#1a1a1a" stroke="#1a1a1a">0</text>
<line x1="241.42" y1="374.40" x2="241.42" y2="377.90" stroke="#8c8c8c" stroke-width="1" stroke-linecap="butt"/>
<text x="241.42" y="394.60" font-size="9.4" text-anchor="middle" textLength="4.9" lengthAdjust="spacingAndGlyphs" fill="#1a1a1a" stroke="#1a1a1a">5</text>
<line x1="261.65" y1="374.40" x2="261.65" y2="377.90" stroke="#8c8c8c" stroke-width="1" stroke-linecap="butt"/>
<text x="261.65" y="394.60" font-size="9.4" text-anchor="middle" textLength="9.8" lengthAdjust="spacingAndGlyphs" fill="#1a1a1a" stroke="#1a1a1a">10</text>
<line x1="281.88" y1="374.40" x2="281.88" y2="377.90" stroke="#8c8c8c" stroke-width="1" stroke-linecap="butt"/>
<text x="281.88" y="394.60" font-size="9.4" text-anchor="middle" textLength="9.8" lengthAdjust="spacingAndGlyphs" fill="#1a1a1a" stroke="#1a1a1a">15</text>
<line x1="302.10" y1="374.40" x2="302.10" y2="377.90" stroke="#8c8c8c" stroke-width="1" stroke-linecap="butt"/>
<text x="302.10" y="394.60" font-size="9.4" text-anchor="middle" textLength="9.8" lengthAdjust="spacingAndGlyphs" fill="#1a1a1a" stroke="#1a1a1a">20</text>
<line x1="322.32" y1="374.40" x2="322.32" y2="377.90" stroke="#8c8c8c" stroke-width="1" stroke-linecap="butt"/>
<text x="322.32" y="394.60" font-size="9.4" text-anchor="middle" textLength="9.8" lengthAdjust="spacingAndGlyphs" fill="#1a1a1a" stroke="#1a1a1a">25</text>
<text x="226.79" y="405.50" font-size="10.5" font-weight="bold" textLength="89.4" lengthAdjust="spacingAndGlyphs" fill="#000" stroke="#000">Nearest neighbor</text>
<text x="236.06" y="419.50" font-size="10.5" font-weight="bold" textLength="71.0" lengthAdjust="spacingAndGlyphs" fill="#000" stroke="#000">distance (Mb)</text>
<text x="194.50" y="344.69" font-size="10.5" font-weight="bold" textLength="53.8" lengthAdjust="spacingAndGlyphs" transform="rotate(-90 194.50 344.69)" fill="#000" stroke="#000">Frequency</text>
<polyline points="222.82,295.88 226.86,321.13 231.31,349.96 235.76,336.77 239.00,354.36 243.45,359.90 249.11,358.76 252.35,362.18 256.80,354.36 261.25,358.76 266.91,366.58 270.95,363.32 275.40,370.98 280.26,365.44 284.30,358.76 289.96,368.86 295.22,367.72 302.10,364.46 308.57,372.12 314.24,367.72 317.47,373.26 321.92,366.58" fill="none" stroke="#000" stroke-width="2.2" stroke-linejoin="round" stroke-linecap="butt"/>
<polyline points="223.63,270.47 226.46,309.24 230.10,333.67 233.33,342.31 236.57,348.34 239.81,356.48 243.04,359.74 246.28,363.00 249.51,356.48 252.75,366.25 255.99,358.11 259.22,361.37 261.25,354.85 264.89,366.25 268.93,363.81 273.78,367.88 279.04,365.44 283.90,363.00 287.13,369.51 291.18,366.25 295.22,367.88 300.08,369.51 304.12,366.25 308.17,364.63 312.21,370.33 316.26,371.96 320.30,371.14" fill="none" stroke="#000" stroke-width="2.3" stroke-linejoin="round" stroke-linecap="butt" stroke-dasharray="1.6 1.0"/>
<line x1="248.20" y1="269.10" x2="273.70" y2="269.10" stroke="#000" stroke-width="2.3" stroke-linecap="round"/>
<line x1="247.10" y1="299.60" x2="273.10" y2="299.60" stroke="#000" stroke-width="2.2" stroke-linecap="butt" stroke-dasharray="1.4 1.2"/>
<text x="276.33" y="274.00" font-size="10.3" textLength="27.1" lengthAdjust="spacingAndGlyphs" fill="#000" stroke="#000">HIF-2</text>
<text x="276.46" y="288.10" font-size="10.3" textLength="63.1" lengthAdjust="spacingAndGlyphs" fill="#000" stroke="#000">binding sites</text>
<text x="276.30" y="304.00" font-size="10.3" textLength="42.3" lengthAdjust="spacingAndGlyphs" fill="#000" stroke="#000">Random</text>
<text x="276.74" y="318.40" font-size="10.3" textLength="61.5" lengthAdjust="spacingAndGlyphs" fill="#000" stroke="#000">control sites</text>
<line x1="396.80" y1="373.60" x2="501.80" y2="373.60" stroke="#8c8c8c" stroke-width="1" stroke-linecap="butt"/>
<line x1="396.80" y1="260.80" x2="396.80" y2="377.10" stroke="#8c8c8c" stroke-width="1" stroke-linecap="butt"/>
<line x1="393.80" y1="373.60" x2="396.80" y2="373.60" stroke="#8c8c8c" stroke-width="1" stroke-linecap="butt"/>
<text x="387.50" y="377.80" font-size="9.4" text-anchor="end" textLength="4.9" lengthAdjust="spacingAndGlyphs" fill="#1a1a1a" stroke="#1a1a1a">0</text>
<line x1="393.80" y1="354.80" x2="396.80" y2="354.80" stroke="#8c8c8c" stroke-width="1" stroke-linecap="butt"/>
<text x="387.50" y="359.00" font-size="9.4" text-anchor="end" textLength="9.8" lengthAdjust="spacingAndGlyphs" fill="#1a1a1a" stroke="#1a1a1a">20</text>
<line x1="393.80" y1="336.00" x2="396.80" y2="336.00" stroke="#8c8c8c" stroke-width="1" stroke-linecap="butt"/>
<text x="387.50" y="340.20" font-size="9.4" text-anchor="end" textLength="9.8" lengthAdjust="spacingAndGlyphs" fill="#1a1a1a" stroke="#1a1a1a">40</text>
<line x1="393.80" y1="317.20" x2="396.80" y2="317.20" stroke="#8c8c8c" stroke-width="1" stroke-linecap="butt"/>
<text x="387.50" y="321.40" font-size="9.4" text-anchor="end" textLength="9.8" lengthAdjust="spacingAndGlyphs" fill="#1a1a1a" stroke="#1a1a1a">60</text>
<line x1="393.80" y1="298.40" x2="396.80" y2="298.40" stroke="#8c8c8c" stroke-width="1" stroke-linecap="butt"/>
<text x="387.50" y="302.60" font-size="9.4" text-anchor="end" textLength="9.8" lengthAdjust="spacingAndGlyphs" fill="#1a1a1a" stroke="#1a1a1a">80</text>
<line x1="393.80" y1="279.60" x2="396.80" y2="279.60" stroke="#8c8c8c" stroke-width="1" stroke-linecap="butt"/>
<text x="387.50" y="283.80" font-size="9.4" text-anchor="end" textLength="14.7" lengthAdjust="spacingAndGlyphs" fill="#1a1a1a" stroke="#1a1a1a">100</text>
<line x1="393.80" y1="260.80" x2="396.80" y2="260.80" stroke="#8c8c8c" stroke-width="1" stroke-linecap="butt"/>
<text x="387.50" y="265.00" font-size="9.4" text-anchor="end" textLength="14.7" lengthAdjust="spacingAndGlyphs" fill="#1a1a1a" stroke="#1a1a1a">120</text>
<line x1="396.80" y1="373.60" x2="396.80" y2="377.10" stroke="#8c8c8c" stroke-width="1" stroke-linecap="butt"/>
<text x="396.80" y="393.80" font-size="9.4" text-anchor="middle" textLength="4.9" lengthAdjust="spacingAndGlyphs" fill="#1a1a1a" stroke="#1a1a1a">0</text>
<line x1="417.80" y1="373.60" x2="417.80" y2="377.10" stroke="#8c8c8c" stroke-width="1" stroke-linecap="butt"/>
<text x="417.80" y="393.80" font-size="9.4" text-anchor="middle" textLength="4.9" lengthAdjust="spacingAndGlyphs" fill="#1a1a1a" stroke="#1a1a1a">5</text>
<line x1="438.80" y1="373.60" x2="438.80" y2="377.10" stroke="#8c8c8c" stroke-width="1" stroke-linecap="butt"/>
<text x="438.80" y="393.80" font-size="9.4" text-anchor="middle" textLength="9.8" lengthAdjust="spacingAndGlyphs" fill="#1a1a1a" stroke="#1a1a1a">10</text>
<line x1="459.80" y1="373.60" x2="459.80" y2="377.10" stroke="#8c8c8c" stroke-width="1" stroke-linecap="butt"/>
<text x="459.80" y="393.80" font-size="9.4" text-anchor="middle" textLength="9.8" lengthAdjust="spacingAndGlyphs" fill="#1a1a1a" stroke="#1a1a1a">15</text>
<line x1="480.80" y1="373.60" x2="480.80" y2="377.10" stroke="#8c8c8c" stroke-width="1" stroke-linecap="butt"/>
<text x="480.80" y="393.80" font-size="9.4" text-anchor="middle" textLength="9.8" lengthAdjust="spacingAndGlyphs" fill="#1a1a1a" stroke="#1a1a1a">20</text>
<line x1="501.80" y1="373.60" x2="501.80" y2="377.10" stroke="#8c8c8c" stroke-width="1" stroke-linecap="butt"/>
<text x="501.80" y="393.80" font-size="9.4" text-anchor="middle" textLength="9.8" lengthAdjust="spacingAndGlyphs" fill="#1a1a1a" stroke="#1a1a1a">25</text>
<text x="387.30" y="405.50" font-size="10.5" font-weight="bold" textLength="89.0" lengthAdjust="spacingAndGlyphs" fill="#000" stroke="#000">Nearest neighbor</text>
<text x="396.25" y="419.50" font-size="10.5" font-weight="bold" textLength="71.8" lengthAdjust="spacingAndGlyphs" fill="#000" stroke="#000">distance (Mb)</text>
<text x="363.50" y="344.19" font-size="10.5" font-weight="bold" textLength="53.7" lengthAdjust="spacingAndGlyphs" transform="rotate(-90 363.50 344.19)" fill="#000" stroke="#000">Frequency</text>
<polyline points="400.16,281.76 402.68,310.62 405.20,330.55 408.14,341.64 412.76,340.42 418.22,348.22 423.68,357.06 429.14,361.38 435.86,361.38 441.32,363.73 445.94,360.35 449.30,368.05 456.02,367.02 462.74,365.89 469.04,368.05 475.76,370.31 480.38,367.02 483.74,372.47 489.20,370.69 495.92,371.44 501.38,370.31" fill="none" stroke="#000" stroke-width="2.2" stroke-linejoin="round" stroke-linecap="butt"/>
<polyline points="400.16,267.47 401.42,284.30 403.10,309.68 405.20,324.72 407.72,334.12 410.24,343.52 414.44,352.92 417.80,357.06 423.26,358.56 424.52,354.80 427.04,359.50 432.50,362.32 437.12,363.73 441.32,360.44 444.68,367.02 449.30,367.96 455.60,366.55 461.90,366.08 468.20,367.02 474.50,371.25 478.70,368.90 482.90,371.72 489.20,371.91 495.50,371.25 500.96,370.31" fill="none" stroke="#000" stroke-width="2.3" stroke-linejoin="round" stroke-linecap="butt" stroke-dasharray="1.6 1.0"/>
<line x1="417.60" y1="269.80" x2="443.10" y2="269.80" stroke="#000" stroke-width="2.3" stroke-linecap="round"/>
<line x1="416.50" y1="301.90" x2="442.50" y2="301.90" stroke="#000" stroke-width="2.2" stroke-linecap="butt" stroke-dasharray="1.4 1.2"/>
<text x="446.00" y="274.90" font-size="10.3" textLength="67.8" lengthAdjust="spacingAndGlyphs" fill="#000" stroke="#000">HIF regulated</text>
<text x="446.47" y="288.90" font-size="10.3" textLength="29.3" lengthAdjust="spacingAndGlyphs" fill="#000" stroke="#000">genes</text>
<text x="446.00" y="306.20" font-size="10.3" textLength="42.7" lengthAdjust="spacingAndGlyphs" fill="#000" stroke="#000">Random</text>
<text x="446.45" y="320.80" font-size="10.3" textLength="68.2" lengthAdjust="spacingAndGlyphs" fill="#000" stroke="#000">control genes</text>
<rect x="35.02" y="469.07" width="6.75" height="138.23" fill="#000"/>
<rect x="41.77" y="549.01" width="6.95" height="58.29" fill="#a6a6a6"/>
<text x="45.27" y="714.59" font-size="8.0" textLength="98.7" lengthAdjust="spacingAndGlyphs" transform="rotate(-90 45.27 714.59)" fill="#111" stroke="#111">Glycolysis/Gluconeogenesis</text>
<rect x="58.96" y="483.09" width="6.75" height="124.21" fill="#000"/>
<rect x="65.71" y="575.94" width="6.95" height="31.35" fill="#a6a6a6"/>
<text x="69.21" y="743.86" font-size="8.0" textLength="128.2" lengthAdjust="spacingAndGlyphs" transform="rotate(-90 69.21 743.86)" fill="#111" stroke="#111">Fructose and Mannose Metabolism</text>
<rect x="82.90" y="527.98" width="6.75" height="79.32" fill="#000"/>
<rect x="89.65" y="584.05" width="6.95" height="23.25" fill="#a6a6a6"/>
<text x="93.15" y="719.85" font-size="8.0" textLength="103.6" lengthAdjust="spacingAndGlyphs" transform="rotate(-90 93.15 719.85)" fill="#111" stroke="#111">Pentose Phosphate Pathway</text>
<rect x="106.84" y="544.63" width="6.75" height="62.67" fill="#000"/>
<rect x="113.59" y="569.81" width="6.95" height="37.49" fill="#a6a6a6"/>
<text x="117.09" y="726.83" font-size="8.0" textLength="111.1" lengthAdjust="spacingAndGlyphs" transform="rotate(-90 117.09 726.83)" fill="#111" stroke="#111">Renal Cell Carcinoma Signaling</text>
<rect x="130.78" y="548.79" width="6.75" height="58.51" fill="#000"/>
<rect x="137.53" y="585.80" width="6.95" height="21.50" fill="#a6a6a6"/>
<text x="141.03" y="671.15" font-size="8.0" textLength="55.4" lengthAdjust="spacingAndGlyphs" transform="rotate(-90 141.03 671.15)" fill="#111" stroke="#111">TGF-&#946; Signaling</text>
<rect x="154.72" y="552.07" width="6.75" height="55.23" fill="#000"/>
<rect x="161.47" y="582.30" width="6.95" height="25.00" fill="#a6a6a6"/>
<text x="164.97" y="688.77" font-size="8.0" textLength="73.1" lengthAdjust="spacingAndGlyphs" transform="rotate(-90 164.97 688.77)" fill="#111" stroke="#111">Inositol Metabolism</text>
<rect x="178.66" y="555.58" width="6.75" height="51.72" fill="#000"/>
<rect x="185.41" y="576.60" width="6.95" height="30.70" fill="#a6a6a6"/>
<text x="188.91" y="680.96" font-size="8.0" textLength="65.3" lengthAdjust="spacingAndGlyphs" transform="rotate(-90 188.91 680.96)" fill="#111" stroke="#111">TR/RXR Activation</text>
<rect x="202.60" y="555.80" width="6.75" height="51.50" fill="#000"/>
<rect x="209.35" y="579.01" width="6.95" height="28.29" fill="#a6a6a6"/>
<text x="212.85" y="689.42" font-size="8.0" textLength="73.7" lengthAdjust="spacingAndGlyphs" transform="rotate(-90 212.85 689.42)" fill="#111" stroke="#111">ERK/MAPK Signaling</text>
<rect x="226.54" y="556.67" width="6.75" height="50.63" fill="#000"/>
<rect x="233.29" y="563.68" width="6.95" height="43.62" fill="#a6a6a6"/>
<text x="236.79" y="669.81" font-size="8.0" textLength="54.1" lengthAdjust="spacingAndGlyphs" transform="rotate(-90 236.79 669.81)" fill="#111" stroke="#111">PPAR Signaling</text>
<rect x="250.48" y="558.42" width="6.75" height="48.88" fill="#000"/>
<rect x="257.23" y="602.01" width="6.95" height="5.29" fill="#a6a6a6"/>
<text x="260.73" y="709.73" font-size="8.0" textLength="94.1" lengthAdjust="spacingAndGlyphs" transform="rotate(-90 260.73 709.73)" fill="#111" stroke="#111">Insulin Receptor Signaling</text>
<rect x="274.42" y="559.96" width="6.75" height="47.34" fill="#000"/>
<text x="284.67" y="724.60" font-size="8.0" textLength="108.9" lengthAdjust="spacingAndGlyphs" transform="rotate(-90 284.67 724.60)" fill="#111" stroke="#111">Cardiac &#946;-adrenergic Signaling</text>
<rect x="298.36" y="562.59" width="6.75" height="44.71" fill="#000"/>
<rect x="305.11" y="596.31" width="6.95" height="10.99" fill="#a6a6a6"/>
<text x="308.61" y="702.45" font-size="8.0" textLength="86.5" lengthAdjust="spacingAndGlyphs" transform="rotate(-90 308.61 702.45)" fill="#111" stroke="#111">Biosynthesis of Steroids</text>
<rect x="322.30" y="560.83" width="6.75" height="46.47" fill="#000"/>
<rect x="329.05" y="569.81" width="6.95" height="37.49" fill="#a6a6a6"/>
<text x="332.55" y="669.80" font-size="8.0" textLength="54.1" lengthAdjust="spacingAndGlyphs" transform="rotate(-90 332.55 669.80)" fill="#111" stroke="#111">PDGF Signaling</text>
<rect x="346.24" y="569.37" width="6.75" height="37.92" fill="#000"/>
<rect x="352.99" y="562.80" width="6.95" height="44.49" fill="#a6a6a6"/>
<text x="356.49" y="690.04" font-size="8.0" textLength="74.4" lengthAdjust="spacingAndGlyphs" transform="rotate(-90 356.49 690.04)" fill="#111" stroke="#111">Neuregulin Signaling</text>
<rect x="370.18" y="571.78" width="6.75" height="35.52" fill="#000"/>
<rect x="376.93" y="563.46" width="6.95" height="43.84" fill="#a6a6a6"/>
<text x="380.43" y="669.34" font-size="8.0" textLength="53.7" lengthAdjust="spacingAndGlyphs" transform="rotate(-90 380.43 669.34)" fill="#111" stroke="#111">RAR Activation</text>
<rect x="394.12" y="581.86" width="6.75" height="25.44" fill="#000"/>
<rect x="400.87" y="562.80" width="6.95" height="44.49" fill="#a6a6a6"/>
<text x="404.37" y="740.84" font-size="8.0" textLength="124.9" lengthAdjust="spacingAndGlyphs" transform="rotate(-90 404.37 740.84)" fill="#111" stroke="#111">Virus Entry via Endocytic Pathways</text>
<rect x="418.06" y="592.15" width="6.75" height="15.15" fill="#000"/>
<rect x="424.81" y="555.14" width="6.95" height="52.16" fill="#a6a6a6"/>
<text x="428.31" y="731.62" font-size="8.0" textLength="115.8" lengthAdjust="spacingAndGlyphs" transform="rotate(-90 428.31 731.62)" fill="#111" stroke="#111">NRF2 Oxidative Stress Response</text>
<rect x="442.00" y="575.73" width="6.75" height="31.57" fill="#000"/>
<rect x="448.75" y="554.48" width="6.95" height="52.82" fill="#a6a6a6"/>
<text x="452.25" y="726.59" font-size="8.0" textLength="110.9" lengthAdjust="spacingAndGlyphs" transform="rotate(-90 452.25 726.59)" fill="#111" stroke="#111">Caveolar Endocytosis Signaling</text>
<rect x="465.94" y="588.21" width="6.75" height="19.09" fill="#000"/>
<rect x="472.69" y="547.91" width="6.95" height="59.39" fill="#a6a6a6"/>
<text x="476.19" y="759.60" font-size="8.0" textLength="143.9" lengthAdjust="spacingAndGlyphs" transform="rotate(-90 476.19 759.60)" fill="#111" stroke="#111">Clathrin-mediated Endocytosis Signaling</text>
<rect x="489.88" y="602.01" width="6.75" height="5.29" fill="#000"/>
<rect x="496.63" y="534.33" width="6.95" height="72.96" fill="#a6a6a6"/>
<text x="500.13" y="752.34" font-size="8.0" textLength="136.1" lengthAdjust="spacingAndGlyphs" transform="rotate(-90 500.13 752.34)" fill="#111" stroke="#111">Role of Oct4 in Stem Cell Pluripotency</text>
<rect x="29.5" y="454.5" width="479.0" height="153.0" fill="none" stroke="#5e5e5e" stroke-width="1"/>
<text x="21.40" y="610.70" font-size="7.0" text-anchor="middle" fill="#1a1a1a" stroke="#1a1a1a">0</text>
<text x="21.40" y="588.80" font-size="7.0" text-anchor="middle" fill="#1a1a1a" stroke="#1a1a1a">1</text>
<text x="21.40" y="566.90" font-size="7.0" text-anchor="middle" fill="#1a1a1a" stroke="#1a1a1a">2</text>
<text x="21.40" y="545.00" font-size="7.0" text-anchor="middle" fill="#1a1a1a" stroke="#1a1a1a">3</text>
<text x="21.40" y="523.10" font-size="7.0" text-anchor="middle" fill="#1a1a1a" stroke="#1a1a1a">4</text>
<text x="21.40" y="501.20" font-size="7.0" text-anchor="middle" fill="#1a1a1a" stroke="#1a1a1a">5</text>
<text x="21.40" y="479.30" font-size="7.0" text-anchor="middle" fill="#1a1a1a" stroke="#1a1a1a">6</text>
<text x="21.40" y="457.40" font-size="7.0" text-anchor="middle" fill="#1a1a1a" stroke="#1a1a1a">7</text>
<text x="11.60" y="558.47" font-size="8.6" font-weight="bold" textLength="55.2" lengthAdjust="spacingAndGlyphs" transform="rotate(-90 11.60 558.47)" fill="#000" stroke="#000">-log(p-value)</text>
<rect x="378.0" y="471.4" width="5.3" height="5.2" fill="#000"/>
<rect x="378.0" y="491.5" width="5.3" height="5.1" fill="#a6a6a6"/>
<text x="385.65" y="477.80" font-size="10.2" textLength="73.4" lengthAdjust="spacingAndGlyphs" fill="#111" stroke="#111">HIF-1 binding loci</text>
<text x="385.65" y="498.40" font-size="10.2" textLength="73.4" lengthAdjust="spacingAndGlyphs" fill="#111" stroke="#111">HIF-2 binding loci</text>
</svg>
</body></html>
